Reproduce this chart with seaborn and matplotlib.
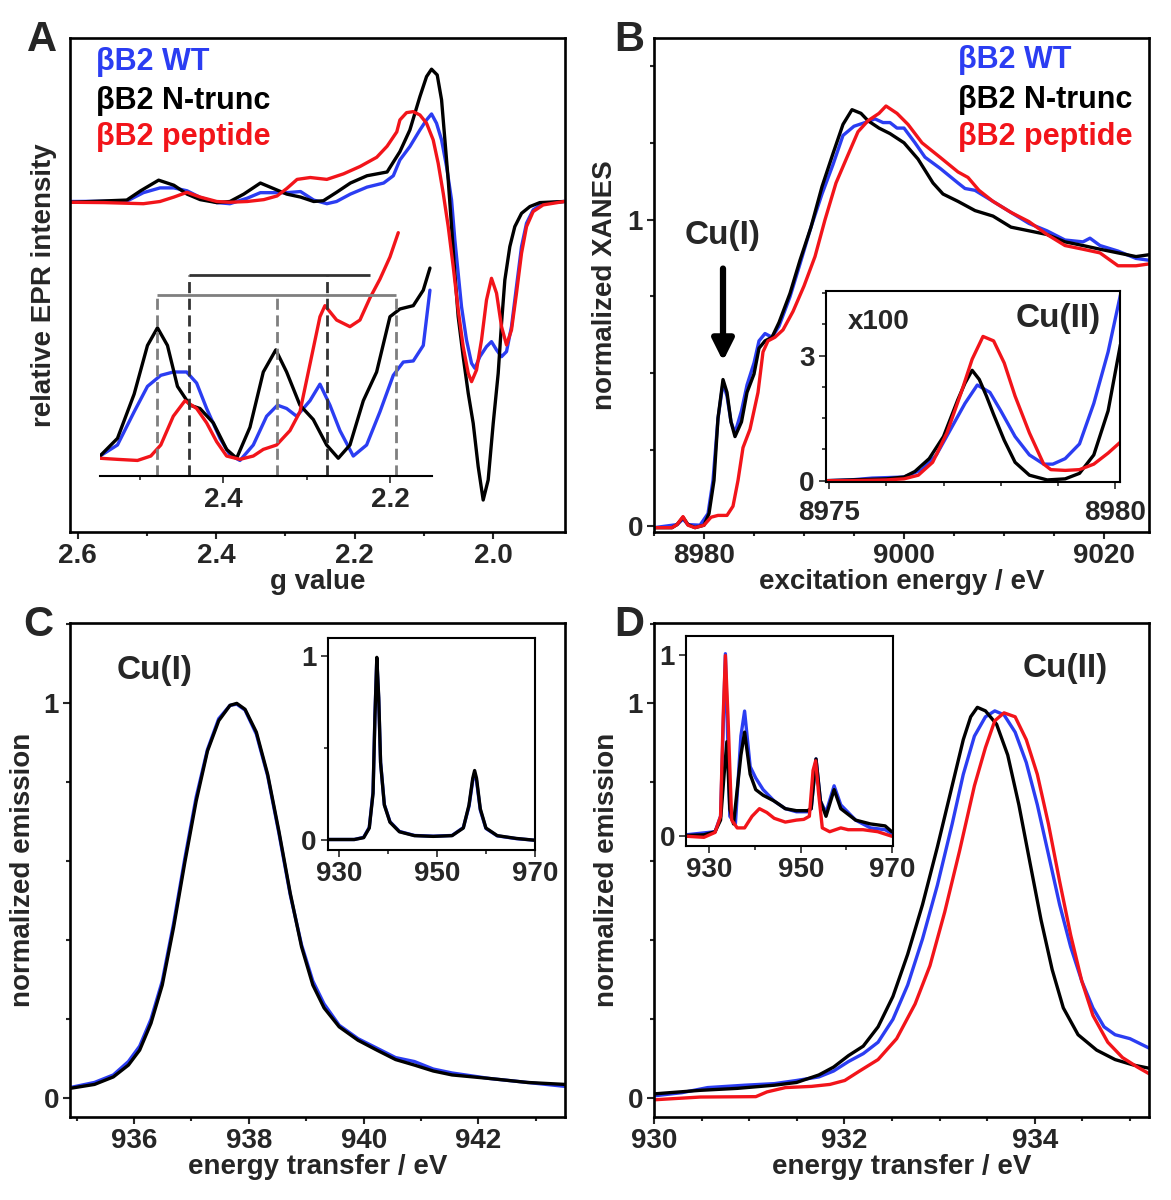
import numpy as np
import pandas as pd
import seaborn as sns
import matplotlib.pyplot as plt
from matplotlib.ticker import MultipleLocator, FixedLocator, NullLocator

# --- 1. STYLE ---
sns.set_style("ticks")
plt.rcParams['font.family'] = ['Liberation Sans', 'DejaVu Sans']
plt.rcParams['font.weight'] = 'bold'
plt.rcParams['axes.labelweight'] = 'bold'
plt.rcParams['lines.solid_joinstyle'] = 'round'
plt.rcParams['lines.solid_capstyle'] = 'round'

BLUE = '#2b3df2'
BLACK = '#000000'
RED = '#f2141a'
GREY = '#7f7f7f'
FS = 20          # ticks and axis labels
FS_LEG = 22      # sample names
FS_NOTE = 24     # Cu(I) / Cu(II)
LW = 2.4
NAMES = ['βB2 WT', 'βB2 N-trunc', 'βB2 peptide']
COLORS = [BLUE, BLACK, RED]

# --- 2. DATA ---
# A: EPR spectra (g value, relative intensity)
epr_g_wt = [2.610, 2.529, 2.505, 2.481, 2.461, 2.442, 2.423, 2.399, 2.380, 2.355, 2.336, 2.317, 2.298, 2.278,
            2.259, 2.240, 2.226, 2.206, 2.182, 2.158, 2.144,
            2.1345, 2.1201, 2.1056, 2.0960, 2.0888, 2.0816, 2.0743, 2.0671, 2.0599, 2.0551, 2.0503, 2.0455,
            2.0383, 2.0310, 2.0262, 2.0190, 2.0094, 2.0022, 1.9949, 1.9877, 1.9805, 1.9733, 1.9661, 1.9588,
            1.9516, 1.9420, 1.9276, 1.8972]
epr_i_wt = [0.0, 0.003, 0.08, 0.123, 0.123, 0.097, 0.037, -0.01, -0.02, 0.03, 0.08, 0.08, 0.08, 0.09,
            0.013, -0.02, 0.0, 0.067, 0.13, 0.167, 0.233,
            0.376, 0.497, 0.647, 0.738, 0.792, 0.708, 0.557, 0.316, 0.014, -0.348, -0.650, -0.951,
            -1.253, -1.464, -1.509, -1.404, -1.313, -1.268, -1.343, -1.404, -1.358, -1.132, -0.770, -0.408,
            -0.197, -0.076, -0.016, 0.0]
epr_g_nt = [2.610, 2.529, 2.509, 2.483, 2.461, 2.442, 2.423, 2.399, 2.380, 2.360, 2.336, 2.317, 2.298, 2.278,
            2.259, 2.245, 2.226, 2.206, 2.182, 2.153,
            2.1345, 2.1201, 2.1056, 2.0960, 2.0888, 2.0806, 2.0743, 2.0695, 2.0647, 2.0599, 2.0551, 2.0503,
            2.0431, 2.0358, 2.0286, 2.0214, 2.0142, 2.0070, 1.9997, 1.9925, 1.9877, 1.9829, 1.9757, 1.9685,
            1.9588, 1.9468, 1.9324, 1.8972]
epr_i_nt = [-0.007, 0.013, 0.097, 0.193, 0.147, 0.067, 0.017, -0.01, 0.0, 0.067, 0.167, 0.117, 0.067, 0.04,
            0.0, 0.007, 0.083, 0.167, 0.233, 0.267,
            0.451, 0.647, 0.949, 1.130, 1.197, 1.145, 0.919, 0.557, 0.195, -0.227, -0.650, -1.042,
            -1.403, -1.735, -2.007, -2.399, -2.701, -2.520, -2.007, -1.554, -1.102, -0.710, -0.408, -0.227,
            -0.107, -0.046, -0.010, 0.0]
epr_g_pep = [2.610, 2.562, 2.505, 2.481, 2.461, 2.442, 2.423, 2.399, 2.380, 2.355, 2.331, 2.312, 2.298, 2.283,
             2.264, 2.240, 2.216, 2.192, 2.168, 2.153, 2.139,
             2.1345, 2.1249, 2.1153, 2.1056, 2.0960, 2.0864, 2.0792, 2.0719, 2.0647, 2.0575, 2.0503, 2.0431,
             2.0358, 2.0310, 2.0238, 2.0166, 2.0094, 2.0022, 1.9949, 1.9877, 1.9805, 1.9733, 1.9661, 1.9588,
             1.9516, 1.9420, 1.9276, 1.8972]
epr_i_pep = [-0.007, -0.01, -0.02, 0.0, 0.04, 0.083, 0.04, 0.0, -0.007, 0.0, 0.017, 0.05, 0.117, 0.20,
             0.217, 0.20, 0.25, 0.317, 0.40, 0.50, 0.63,
             0.738, 0.804, 0.813, 0.783, 0.708, 0.557, 0.346, 0.074, -0.227, -0.589, -0.981, -1.313,
             -1.554, -1.630, -1.524, -1.253, -0.891, -0.695, -0.830, -1.132, -1.298, -1.162, -0.830, -0.468,
             -0.227, -0.091, -0.031, 0.0]

# A inset: expanded low-field region
ins_g_wt = [2.548, 2.527, 2.507, 2.491, 2.475, 2.460, 2.444, 2.432, 2.420, 2.404, 2.392, 2.380, 2.364, 2.348,
            2.335, 2.324, 2.312, 2.296, 2.284, 2.272, 2.260, 2.244, 2.228, 2.212, 2.196, 2.184, 2.172, 2.160, 2.152]
ins_i_wt = [0.18, 0.28, 0.58, 0.81, 0.91, 0.94, 0.94, 0.84, 0.61, 0.34, 0.19, 0.14, 0.28, 0.54,
            0.64, 0.61, 0.54, 0.68, 0.83, 0.64, 0.41, 0.18, 0.28, 0.58, 0.91, 1.03, 1.04, 1.18, 1.68]
ins_g_nt = [2.548, 2.527, 2.507, 2.491, 2.479, 2.467, 2.455, 2.440, 2.428, 2.412, 2.396, 2.384, 2.368, 2.352,
            2.337, 2.324, 2.308, 2.292, 2.276, 2.262, 2.248, 2.232, 2.216, 2.200, 2.188, 2.172, 2.160, 2.152]
ins_i_nt = [0.18, 0.34, 0.74, 1.18, 1.34, 1.18, 0.81, 0.64, 0.61, 0.48, 0.24, 0.16, 0.44, 0.94,
            1.14, 0.94, 0.64, 0.51, 0.28, 0.16, 0.28, 0.68, 0.94, 1.44, 1.51, 1.54, 1.68, 1.88]
ins_g_pep = [2.548, 2.527, 2.503, 2.487, 2.475, 2.460, 2.446, 2.432, 2.420, 2.408, 2.396, 2.380, 2.364, 2.352,
             2.336, 2.320, 2.308, 2.296, 2.284, 2.278, 2.264, 2.248, 2.236, 2.224, 2.212, 2.200, 2.190]
ins_i_pep = [0.16, 0.15, 0.14, 0.18, 0.28, 0.54, 0.68, 0.61, 0.48, 0.31, 0.18, 0.15, 0.18, 0.24,
             0.28, 0.41, 0.58, 1.01, 1.44, 1.54, 1.41, 1.35, 1.41, 1.61, 1.78, 1.98, 2.20]
# hyperfine markers (g positions)
grey_marks = [2.479, 2.335, 2.193]
black_marks = [2.441, 2.275]
black_bracket_end = 2.224
grey_level, black_level = 1.64, 1.82

# B: Cu K-edge XANES
xan_e_wt = [8975.0, 8977.3, 8977.9, 8978.4, 8979.6, 8980.4, 8980.9, 8981.4, 8981.9, 8982.3, 8982.7, 8983.1,
            8983.75, 8984.3, 8985.0, 8985.5, 8986.1, 8986.8, 8987.5, 8988.6, 8989.6, 8990.7, 8991.8, 8992.9,
            8993.9, 8995.0, 8996.1, 8997.1, 8997.9, 8998.6, 8999.3, 9000.0, 9001.1, 9002.1, 9003.6, 9005.4,
            9006.1, 9007.1, 9008.9, 9010.7, 9012.5, 9014.3, 9016.1, 9017.9, 9018.6, 9019.6, 9021.4, 9023.2, 9024.5]
xan_y_wt = [-0.004, 0.006, 0.024, 0.006, 0.004, 0.042, 0.150, 0.353, 0.467, 0.425, 0.341, 0.305,
            0.377, 0.461, 0.533, 0.605, 0.629, 0.617, 0.653, 0.749, 0.856, 0.976, 1.084, 1.180,
            1.275, 1.305, 1.317, 1.329, 1.317, 1.317, 1.299, 1.299, 1.251, 1.204, 1.168, 1.120,
            1.102, 1.096, 1.060, 1.024, 0.988, 0.964, 0.934, 0.928, 0.940, 0.916, 0.898, 0.874, 0.868]
xan_e_nt = [8975.0, 8976.8, 8977.3, 8977.9, 8978.4, 8979.1, 8980.0, 8980.5, 8981.0, 8981.4, 8981.9, 8982.3,
            8982.7, 8983.1, 8983.75, 8984.3, 8985.0, 8985.5, 8986.1, 8986.8, 8987.5, 8988.6, 8989.6, 8990.7,
            8991.8, 8992.9, 8993.9, 8994.8, 8995.7, 8996.4, 8997.5, 8998.6, 9000.0, 9001.4, 9002.9, 9003.9,
            9005.4, 9007.1, 9008.9, 9010.7, 9012.5, 9014.3, 9016.1, 9017.9, 9019.6, 9021.4, 9023.2, 9024.5]
xan_y_nt = [-0.004, -0.004, 0.006, 0.030, 0.006, -0.004, 0.004, 0.042, 0.150, 0.353, 0.479, 0.437,
            0.341, 0.293, 0.341, 0.437, 0.497, 0.581, 0.605, 0.617, 0.665, 0.760, 0.868, 0.976,
            1.108, 1.216, 1.311, 1.359, 1.347, 1.323, 1.299, 1.281, 1.251, 1.198, 1.120, 1.084,
            1.060, 1.030, 1.012, 0.976, 0.964, 0.952, 0.928, 0.916, 0.904, 0.892, 0.880, 0.886]
xan_e_pep = [8975.0, 8976.8, 8977.3, 8977.9, 8978.4, 8979.1, 8980.0, 8980.7, 8981.4, 8982.3, 8982.9, 8983.4,
             8983.9, 8984.6, 8985.4, 8985.9, 8986.4, 8987.1, 8987.9, 8988.9, 8990.0, 8991.1, 8992.1, 8993.2,
             8994.3, 8995.4, 8996.4, 8997.5, 8998.2, 8999.3, 9000.4, 9001.8, 9003.6, 9005.4, 9006.4, 9007.5,
             9008.9, 9010.7, 9012.5, 9014.3, 9016.1, 9017.9, 9019.6, 9021.4, 9023.2, 9024.5]
xan_y_pep = [-0.004, -0.004, 0.006, 0.032, 0.004, -0.004, 0.004, 0.030, 0.036, 0.036, 0.066, 0.150,
             0.257, 0.317, 0.437, 0.569, 0.605, 0.617, 0.641, 0.701, 0.784, 0.880, 1.000, 1.120,
             1.204, 1.287, 1.323, 1.347, 1.371, 1.347, 1.311, 1.251, 1.204, 1.156, 1.138, 1.096,
             1.060, 1.024, 0.994, 0.952, 0.916, 0.904, 0.892, 0.850, 0.850, 0.856]

# B inset: Cu(II) pre-edge (x100)
pre_e_wt = [8974.94, 8975.375, 8975.75, 8976.31, 8976.625, 8976.875, 8977.125, 8977.375, 8977.59, 8977.81,
            8978.0, 8978.25, 8978.5, 8978.75, 8978.91, 8979.125, 8979.375, 8979.625, 8979.875, 8980.09]
pre_y_wt = [0.0, 0.018, 0.062, 0.088, 0.265, 0.618, 1.235, 1.853, 2.294, 2.118,
            1.676, 1.059, 0.618, 0.397, 0.397, 0.529, 0.882, 1.853, 3.088, 4.456]
pre_e_nt = [8974.94, 8975.375, 8976.0, 8976.31, 8976.5, 8976.75, 8977.0, 8977.25, 8977.375, 8977.5, 8977.625,
            8977.75, 8977.875, 8978.06, 8978.25, 8978.5, 8978.81, 8979.125, 8979.375, 8979.625, 8979.875, 8980.09]
pre_y_nt = [0.0, 0.018, 0.044, 0.088, 0.221, 0.529, 1.059, 1.941, 2.338, 2.647, 2.427,
            2.029, 1.588, 0.971, 0.441, 0.132, 0.018, 0.044, 0.176, 0.618, 1.676, 3.265]
pre_e_pep = [8974.94, 8975.375, 8976.0, 8976.31, 8976.56, 8976.81, 8977.06, 8977.31, 8977.5, 8977.69, 8977.875,
             8978.06, 8978.25, 8978.5, 8978.75, 8978.875, 8979.125, 8979.375, 8979.625, 8979.875, 8980.09]
pre_y_pep = [0.0, 0.0, 0.018, 0.044, 0.132, 0.441, 1.147, 2.118, 2.912, 3.459, 3.353,
             2.824, 2.029, 1.147, 0.397, 0.265, 0.247, 0.265, 0.397, 0.662, 0.926]

# C: Cu(I) L3 emission
c_e = [934.885, 935.311, 935.639, 935.902, 936.098, 936.295, 936.492, 936.689, 936.885, 937.082, 937.279,
       937.475, 937.672, 937.790, 937.934, 938.131, 938.328, 938.525, 938.721, 938.918, 939.115, 939.311,
       939.574, 939.902, 940.230, 940.557, 940.885, 941.213, 941.541, 942.197, 942.852, 943.508]
c_y_wt = [0.026, 0.039, 0.058, 0.092, 0.131, 0.199, 0.296, 0.442, 0.607, 0.762, 0.883,
          0.961, 0.995, 0.998, 0.983, 0.922, 0.816, 0.670, 0.515, 0.388, 0.296, 0.238,
          0.184, 0.150, 0.126, 0.102, 0.092, 0.073, 0.063, 0.049, 0.039, 0.029]
c_y_nt = [0.024, 0.034, 0.053, 0.083, 0.121, 0.189, 0.286, 0.432, 0.597, 0.752, 0.879,
          0.956, 0.995, 1.000, 0.985, 0.927, 0.820, 0.675, 0.519, 0.383, 0.286, 0.228,
          0.180, 0.146, 0.121, 0.097, 0.083, 0.068, 0.058, 0.049, 0.039, 0.034]
# C inset: full L3/L2 range
ci_e = [927.69, 933.08, 935.0, 936.15, 936.92, 937.31, 937.69, 938.08, 938.46, 939.23, 940.38, 942.31, 945.38,
        949.23, 953.08, 955.38, 956.54, 957.31, 957.69, 958.08, 958.85, 960.0, 962.31, 966.15, 970.0]
ci_y_nt = [0.0, 0.0, 0.010, 0.0625, 0.25, 0.667, 0.99, 0.771, 0.417, 0.1875, 0.094, 0.042, 0.021,
           0.017, 0.021, 0.0625, 0.1875, 0.333, 0.375, 0.333, 0.167, 0.0625, 0.021, 0.006, -0.004]
ci_y_wt = [0.0, 0.0, 0.012, 0.066, 0.26, 0.68, 0.98, 0.76, 0.42, 0.19, 0.097, 0.044, 0.022,
           0.018, 0.022, 0.065, 0.18, 0.32, 0.36, 0.32, 0.16, 0.06, 0.02, 0.005, -0.004]

# D: Cu(II) L3 emission
d_e_wt = [930.0, 930.292, 930.564, 930.953, 931.265, 931.498, 931.732, 931.887, 932.043, 932.198, 932.354,
          932.510, 932.665, 932.821, 932.977, 933.132, 933.249, 933.366, 933.482, 933.580, 933.677, 933.794,
          933.911, 934.027, 934.144, 934.261, 934.377, 934.494, 934.611, 934.728, 934.844, 935.0, 935.202]
d_y_wt = [0.005, 0.013, 0.026, 0.032, 0.036, 0.044, 0.053, 0.068, 0.092, 0.112, 0.141,
          0.199, 0.286, 0.403, 0.539, 0.694, 0.820, 0.917, 0.966, 0.981, 0.971, 0.927,
          0.850, 0.743, 0.617, 0.490, 0.383, 0.296, 0.228, 0.180, 0.160, 0.150, 0.126]
d_e_nt = [930.0, 930.486, 930.875, 931.265, 931.498, 931.732, 931.887, 932.043, 932.198, 932.354, 932.510,
          932.665, 932.821, 932.977, 933.132, 933.249, 933.327, 933.397, 933.482, 933.599, 933.716, 933.833,
          933.949, 934.066, 934.183, 934.300, 934.455, 934.650, 934.844, 935.039, 935.202]
d_y_nt = [0.010, 0.019, 0.024, 0.032, 0.039, 0.058, 0.078, 0.107, 0.131, 0.180, 0.257,
          0.364, 0.490, 0.636, 0.791, 0.908, 0.966, 0.990, 0.981, 0.947, 0.869, 0.743,
          0.597, 0.451, 0.325, 0.228, 0.160, 0.121, 0.097, 0.083, 0.075]
d_e_pep = [930.0, 930.486, 931.070, 931.187, 931.381, 931.654, 931.848, 932.004, 932.160, 932.354, 932.549,
           932.743, 932.899, 933.054, 933.210, 933.366, 933.482, 933.580, 933.677, 933.794, 933.911, 934.027,
           934.144, 934.261, 934.377, 934.494, 934.611, 934.767, 934.922, 935.078, 935.202]
d_y_pep = [-0.005, 0.002, 0.003, 0.015, 0.026, 0.029, 0.034, 0.044, 0.068, 0.097, 0.150,
           0.238, 0.335, 0.471, 0.626, 0.791, 0.888, 0.956, 0.976, 0.966, 0.908, 0.820,
           0.694, 0.549, 0.413, 0.296, 0.209, 0.141, 0.102, 0.078, 0.061]
# D inset: full L3/L2 range
di_e_wt = [924.89, 931.22, 932.43, 933.49, 934.46, 935.68, 936.89, 937.70, 938.92, 940.14, 941.76, 944.19, 946.63,
           949.06, 951.49, 952.30, 953.36, 954.33, 955.55, 957.33, 958.79, 962.04, 965.28, 968.52, 969.98]
di_y_wt = [0.008, 0.025, 0.110, 1.006, 0.110, 0.068, 0.553, 0.690, 0.384, 0.321, 0.257, 0.194, 0.152,
           0.135, 0.135, 0.152, 0.426, 0.194, 0.131, 0.278, 0.173, 0.089, 0.046, 0.036, 0.015]
di_e_nt = [924.89, 928.78, 931.22, 932.43, 933.24, 933.81, 934.46, 935.27, 936.89, 937.70, 938.92, 940.14, 941.76,
           944.19, 946.63, 949.06, 951.49, 952.30, 953.36, 954.33, 955.55, 957.33, 958.79, 962.04, 965.28, 968.52, 969.98]
di_y_nt = [0.004, 0.008, 0.025, 0.089, 0.35, 0.521, 0.15, 0.068, 0.447, 0.574, 0.342, 0.257, 0.226,
           0.194, 0.152, 0.141, 0.141, 0.152, 0.426, 0.194, 0.110, 0.257, 0.152, 0.089, 0.068, 0.057, 0.025]
di_e_pep = [924.89, 928.78, 931.22, 932.43, 933.0, 933.49, 934.06, 934.87, 936.08, 937.70, 939.33, 940.95, 942.57,
            944.19, 946.63, 949.06, 950.68, 951.90, 952.71, 953.28, 953.93, 954.74, 956.36, 958.79, 960.41,
            963.66, 966.90, 969.98]
di_y_pep = [0.0, -0.006, 0.021, 0.110, 0.658, 0.996, 0.658, 0.089, 0.046, 0.046, 0.110, 0.152, 0.131,
            0.099, 0.078, 0.089, 0.093, 0.110, 0.363, 0.416, 0.236, 0.046, 0.025, 0.046, 0.036,
            0.036, 0.025, 0.0]


def draw(ax, x, y, color, lw=LW):
    df = pd.DataFrame({'x': x, 'y': y})
    sns.lineplot(data=df, x='x', y='y', ax=ax, color=color, lw=lw, estimator=None, sort=False)
    ax.set_xlabel('')
    ax.set_ylabel('')


def frame(ax, lw=1.9):
    for s in ax.spines.values():
        s.set_visible(True)
        s.set_linewidth(lw)
        s.set_color('black')
    ax.tick_params(which='both', direction='out', width=lw * 0.8, labelsize=FS, top=False, right=False, pad=3)
    ax.tick_params(which='major', length=5)
    ax.tick_params(which='minor', length=3)
    for lab in ax.get_xticklabels() + ax.get_yticklabels():
        lab.set_fontweight('bold')


def legend_text(ax, x, ys):
    for name, col, yy in zip(NAMES, COLORS, ys):
        ax.text(x, yy, name, color=col, fontsize=FS_LEG, fontweight='bold', transform=ax.transAxes,
                ha='left', va='center')


fig = plt.figure(figsize=(11.71, 12), dpi=100)
W, H = 0.4227, 0.4117
axA = fig.add_axes([0.0598, 0.5567, W, H])
axB = fig.add_axes([0.5585, 0.5567, W, H])
axC = fig.add_axes([0.0598, 0.0692, W, H])
axD = fig.add_axes([0.5585, 0.0692, W, H])

# --- A. EPR ---
draw(axA, epr_g_wt, epr_i_wt, BLUE)
draw(axA, epr_g_nt, epr_i_nt, BLACK)
draw(axA, epr_g_pep, epr_i_pep, RED)
axA.set_xlim(2.611, 1.896)
axA.set_ylim(-2.99, 1.48)
axA.xaxis.set_major_locator(FixedLocator([2.6, 2.4, 2.2, 2.0]))
axA.xaxis.set_minor_locator(FixedLocator([2.5, 2.3, 2.1]))
axA.set_xticklabels(['2.6', '2.4', '2.2', '2.0'])
axA.yaxis.set_major_locator(NullLocator())
frame(axA)
axA.set_xlabel('g value', fontsize=FS, fontweight='bold')
axA.set_ylabel('relative EPR intensity', fontsize=FS, fontweight='bold')
axA.xaxis.set_label_coords(0.5, -0.075)
axA.yaxis.set_label_coords(-0.026, 0.5)
legend_text(axA, 0.052, [0.951, 0.873, 0.799])

insA = axA.inset_axes([0.0605, 0.1134, 0.670, 0.517])
insA.patch.set_alpha(0)
draw(insA, ins_g_wt, ins_i_wt, BLUE)
draw(insA, ins_g_nt, ins_i_nt, BLACK)
draw(insA, ins_g_pep, ins_i_pep, RED)
insA.set_xlim(2.548, 2.150)
insA.set_ylim(0, 2.31)
insA.vlines(grey_marks, 0, grey_level, colors=GREY, lw=2, linestyles=(0, (4, 2)))
insA.hlines(grey_level, grey_marks[0], grey_marks[-1], colors=GREY, lw=2)
insA.vlines(black_marks, 0, black_level, colors='#333333', lw=2, linestyles=(0, (4, 2)))
insA.hlines(black_level, black_marks[0], black_bracket_end, colors='#333333', lw=2)
insA.xaxis.set_major_locator(FixedLocator([2.4, 2.2]))
insA.xaxis.set_minor_locator(FixedLocator([2.5, 2.3]))
insA.set_xticklabels(['2.4', '2.2'])
insA.yaxis.set_major_locator(NullLocator())
frame(insA, lw=1.5)
for s in ['top', 'left', 'right']:
    insA.spines[s].set_visible(False)

# --- B. XANES ---
draw(axB, xan_e_wt, xan_y_wt, BLUE)
draw(axB, xan_e_nt, xan_y_nt, BLACK)
draw(axB, xan_e_pep, xan_y_pep, RED)
axB.set_xlim(8975, 9024.5)
axB.set_ylim(-0.018, 1.593)
axB.xaxis.set_major_locator(FixedLocator([8980, 9000, 9020]))
axB.xaxis.set_minor_locator(MultipleLocator(5))
axB.yaxis.set_major_locator(FixedLocator([0, 1]))
axB.yaxis.set_minor_locator(MultipleLocator(0.25))
frame(axB)
axB.set_xlabel('excitation energy / eV', fontsize=FS, fontweight='bold')
axB.set_ylabel('normalized XANES', fontsize=FS, fontweight='bold')
axB.xaxis.set_label_coords(0.5, -0.075)
axB.yaxis.set_label_coords(-0.072, 0.5)
legend_text(axB, 0.614, [0.955, 0.874, 0.799])
axB.text(8981.9, 0.95, 'Cu(I)', fontsize=FS_NOTE, fontweight='bold', ha='center', va='center')
axB.annotate('', xy=(8981.9, 0.53), xytext=(8981.9, 0.85),
             arrowprops=dict(arrowstyle='-|>', lw=4.5, color='black', mutation_scale=32))

insB = axB.inset_axes([0.3466, 0.1004, 0.5957, 0.3866])
draw(insB, pre_e_wt, pre_y_wt, BLUE)
draw(insB, pre_e_nt, pre_y_nt, BLACK)
draw(insB, pre_e_pep, pre_y_pep, RED)
insB.set_xlim(8974.94, 8980.09)
insB.set_ylim(-0.04, 4.54)
insB.xaxis.set_major_locator(FixedLocator([8975, 8980]))
insB.xaxis.set_minor_locator(MultipleLocator(1))
insB.yaxis.set_major_locator(FixedLocator([0, 3]))
insB.yaxis.set_minor_locator(MultipleLocator(0.75))
frame(insB, lw=1.5)
insB.tick_params(axis='x', pad=8)
insB.text(0.18, 0.84, 'x100', transform=insB.transAxes, fontsize=FS, fontweight='bold', ha='center', va='center')
insB.text(0.79, 0.86, 'Cu(II)', transform=insB.transAxes, fontsize=FS_NOTE, fontweight='bold',
          ha='center', va='center')

# --- C. Cu(I) emission ---
draw(axC, c_e, c_y_wt, BLUE)
draw(axC, c_e, c_y_nt, BLACK)
axC.set_xlim(934.885, 943.508)
axC.set_ylim(-0.0485, 1.204)
axC.xaxis.set_major_locator(MultipleLocator(2))
axC.xaxis.set_minor_locator(MultipleLocator(1))
axC.yaxis.set_major_locator(FixedLocator([0, 1]))
axC.yaxis.set_minor_locator(MultipleLocator(0.2))
frame(axC)
axC.set_xlabel('energy transfer / eV', fontsize=FS, fontweight='bold')
axC.set_ylabel('normalized emission', fontsize=FS, fontweight='bold')
axC.xaxis.set_label_coords(0.5, -0.075)
axC.yaxis.set_label_coords(-0.068, 0.5)
axC.text(0.171, 0.903, 'Cu(I)', transform=axC.transAxes, fontsize=FS_NOTE, fontweight='bold',
         ha='center', va='center')

insC = axC.inset_axes([0.521, 0.540, 0.418, 0.429])
draw(insC, ci_e, ci_y_wt, BLUE)
draw(insC, ci_e, ci_y_nt, BLACK)
insC.set_xlim(927.69, 970)
insC.set_ylim(-0.058, 1.094)
insC.xaxis.set_major_locator(FixedLocator([930, 950, 970]))
insC.xaxis.set_minor_locator(FixedLocator([940, 960]))
insC.yaxis.set_major_locator(FixedLocator([0, 1]))
insC.yaxis.set_minor_locator(FixedLocator([0.5]))
frame(insC, lw=1.5)

# --- D. Cu(II) emission ---
draw(axD, d_e_wt, d_y_wt, BLUE)
draw(axD, d_e_nt, d_y_nt, BLACK)
draw(axD, d_e_pep, d_y_pep, RED)
axD.set_xlim(930, 935.2)
axD.set_ylim(-0.0485, 1.204)
axD.xaxis.set_major_locator(MultipleLocator(2))
axD.xaxis.set_minor_locator(MultipleLocator(0.5))
axD.yaxis.set_major_locator(FixedLocator([0, 1]))
axD.yaxis.set_minor_locator(MultipleLocator(0.2))
frame(axD)
axD.set_xlabel('energy transfer / eV', fontsize=FS, fontweight='bold')
axD.set_ylabel('normalized emission', fontsize=FS, fontweight='bold')
axD.xaxis.set_label_coords(0.5, -0.075)
axD.yaxis.set_label_coords(-0.068, 0.5)
axD.text(0.83, 0.907, 'Cu(II)', transform=axD.transAxes, fontsize=FS_NOTE, fontweight='bold',
         ha='center', va='center')

insD = axD.inset_axes([0.065, 0.548, 0.417, 0.426])
draw(insD, di_e_wt, di_y_wt, BLUE)
draw(insD, di_e_nt, di_y_nt, BLACK)
draw(insD, di_e_pep, di_y_pep, RED)
insD.set_xlim(924.89, 970.15)
insD.set_ylim(-0.055, 1.105)
insD.xaxis.set_major_locator(FixedLocator([930, 950, 970]))
insD.xaxis.set_minor_locator(FixedLocator([940, 960]))
insD.yaxis.set_major_locator(FixedLocator([0, 1]))
frame(insD, lw=1.5)

# panel letters
for lab, (px, py) in zip('ABCD', [(0.036, 0.967), (0.537, 0.967), (0.033, 0.479), (0.537, 0.479)]):
    fig.text(px, py, lab, fontsize=30, fontweight='bold', ha='center', va='center')

fig.savefig('out.png', dpi=100)
